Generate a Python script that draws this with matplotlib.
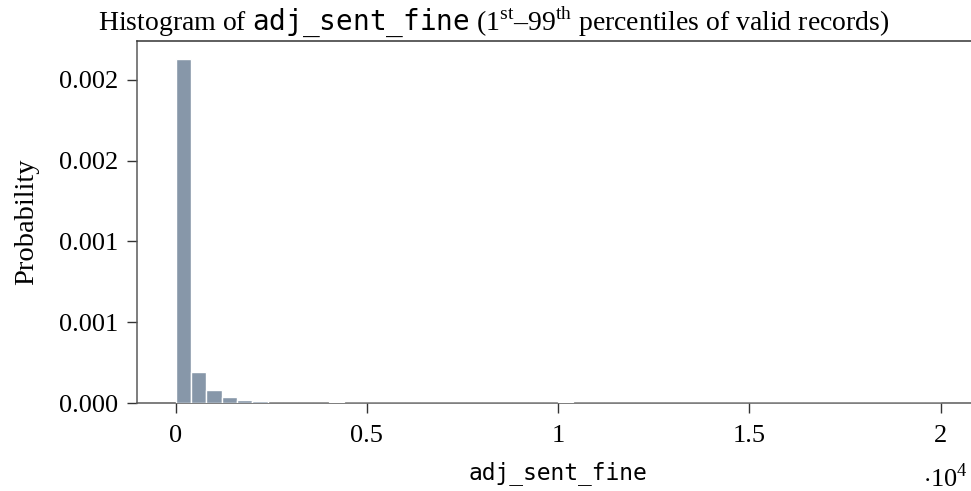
import matplotlib
matplotlib.use("Agg")
import matplotlib.pyplot as plt
import numpy as np

# Histogram of fines: 50 bins of width 400 covering 0 - 20000, density-normalised
bin_width = 400
bin_edges = list(range(0, 20001, bin_width))
density = [
    2.128e-3, 1.90e-4, 7.9e-5, 3.9e-5, 1.9e-5, 1.5e-5, 3.0e-6, 2.5e-6, 2.0e-6, 1.5e-6,
    4.0e-6, 0.5e-6, 1.5e-6, 0.3e-6, 0.3e-6, 0.3e-6, 0.3e-6, 0.3e-6, 0.2e-6, 0.2e-6,
    0.2e-6, 0.2e-6, 0.2e-6, 0.2e-6, 0.2e-6, 4.0e-6, 0.2e-6, 0.2e-6, 0.2e-6, 0.2e-6,
    0.2e-6, 0.2e-6, 0.2e-6, 0.2e-6, 0.2e-6, 2.5e-6, 0.2e-6, 0.2e-6, 0.2e-6, 0.2e-6,
    0.2e-6, 0.2e-6, 0.2e-6, 0.2e-6, 0.2e-6, 0.2e-6, 0.2e-6, 0.2e-6, 0.2e-6, 3.0e-6,
]
x_ticks = [0, 5000, 10000, 15000, 20000]
x_tick_labels = ["0", "0.5", "1", "1.5", "2"]
y_ticks = [0.0, 0.0005, 0.001, 0.0015, 0.002]
y_tick_labels = ["0.000", "0.001", "0.001", "0.002", "0.002"]

plt.rcParams["font.family"] = ["Liberation Serif", "DejaVu Serif"]
plt.rcParams["mathtext.fontset"] = "custom"
plt.rcParams["mathtext.rm"] = "Liberation Serif"
plt.rcParams["mathtext.tt"] = "DejaVu Sans Mono"

bar_color = "#8797a9"
spine_color = "#5a5a5a"
fs = 19

fig = plt.figure(figsize=(9.71, 4.91), dpi=100)
ax = fig.add_axes([0.1416, 0.1792, 0.8664, 0.7373])

left = np.array(bin_edges[:-1])
ax.bar(left, density, width=bin_width, align="edge", color=bar_color,
       edgecolor="white", linewidth=1.0, zorder=3)

lo, hi = bin_edges[0], bin_edges[-1]
pad = 0.05 * (hi - lo)
ax.set_xlim(lo - pad, hi + pad)
ax.set_ylim(0, max(density) * 1.053)

ax.set_xticks(x_ticks)
ax.set_xticklabels(x_tick_labels)
ax.set_yticks(y_ticks)
ax.set_yticklabels(y_tick_labels)
ax.tick_params(axis="both", direction="out", length=7, width=1.0,
               colors="#333333", labelcolor="black", labelsize=fs)
ax.tick_params(axis="x", pad=9)
ax.tick_params(axis="y", pad=7)
ax.tick_params(top=False, right=False)

for s in ax.spines.values():
    s.set_color(spine_color)
    s.set_linewidth(1.1)
ax.spines["top"].set_color("#333333")

ax.set_ylabel("Probability", fontsize=20.5, labelpad=14)
ax.set_xlabel("adj_sent_fine", fontsize=16.5, family="DejaVu Sans Mono", labelpad=10)
fig.text(945 / 971, 1 - 487 / 491, r"$\cdot 10^{4}$", fontsize=fs,
         ha="center", va="baseline")

fig.text(494 / 971, 1 - 22 / 491,
         r"Histogram of $\mathtt{adj\_sent\_fine}$ (1$^{\mathrm{st}}$–99$^{\mathrm{th}}$ percentiles of valid records)",
         ha="center", va="center", fontsize=20)

fig.savefig("out.png", dpi=100)
